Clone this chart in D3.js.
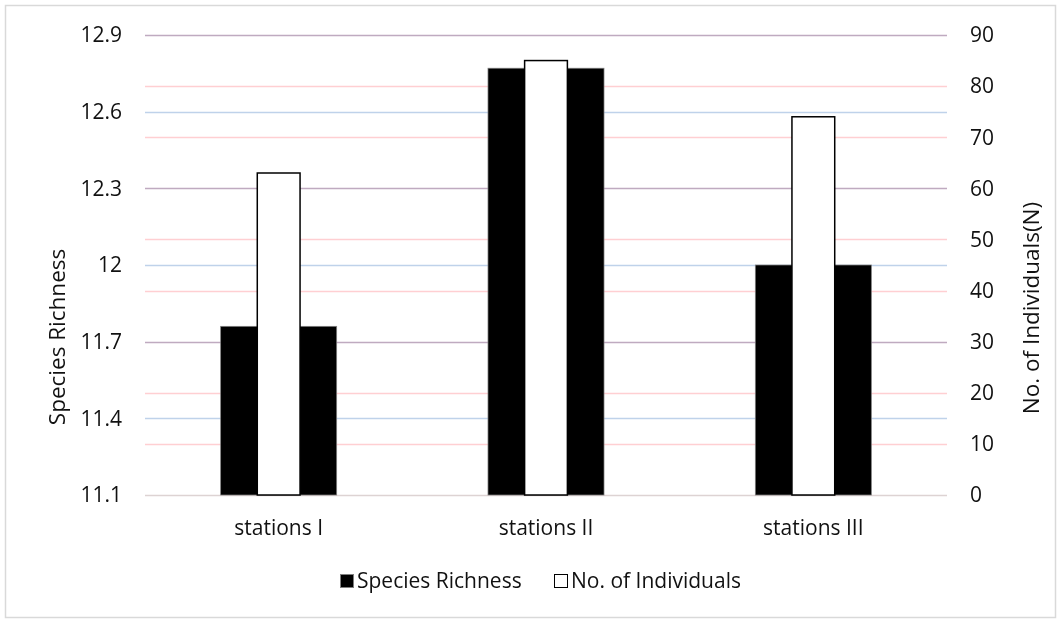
<!DOCTYPE html>
<html>
<head>
<meta charset="utf-8">
<script src="https://cdn.jsdelivr.net/npm/d3@7"></script>
<style>
  html, body { margin: 0; padding: 0; background: #fff; }
  svg { display: block; font-family: "Open Sans", sans-serif; }
</style>
</head>
<body>
<svg id="chart" width="1061" height="619"></svg>
<script>
// Stations and the two measured series
const categories = ["stations I", "stations II", "stations III"];
const speciesRichness = [11.76, 12.77, 12.0];
const individuals = [63, 85, 74];
const leftTicks = [11.1, 11.4, 11.7, 12.0, 12.3, 12.6, 12.9];
const rightTicks = [0, 10, 20, 30, 40, 50, 60, 70, 80, 90];
const leftTickLabels = ["11.1", "11.4", "11.7", "12", "12.3", "12.6", "12.9"];
const legendLabels = ["Species Richness", "No. of Individuals"];

const svg = d3.select("#chart");
const W = 1061;
const plot = { left: 145, right: 947, top: 35, bottom: 495 };

// frame around the chart
svg.append("rect")
  .attr("x", 5.5).attr("y", 5.5)
  .attr("width", W - 11).attr("height", 612)
  .attr("fill", "#fff").attr("stroke", "#d9d9d9").attr("stroke-width", 1.5);

const x = d3.scaleBand().domain(categories)
  .range([plot.left, plot.right]).paddingInner(0.566).paddingOuter(0.283);
const xNarrow = d3.scaleBand().domain(categories)
  .range([plot.left, plot.right]).paddingInner(0.84).paddingOuter(0.42);
const yL = d3.scaleLinear().domain([11.1, 12.9]).range([plot.bottom, plot.top]);
const yR = d3.scaleLinear().domain([0, 90]).range([plot.bottom, plot.top]);

// gridlines: right axis (pink) and left axis (blue), blended where they coincide
const grid = svg.append("g").style("isolation", "isolate");
grid.selectAll("line.gr").data(rightTicks.filter(d => d > 0)).join("line")
  .attr("x1", plot.left).attr("x2", plot.right)
  .attr("y1", d => Math.round(yR(d)) + 0.5).attr("y2", d => Math.round(yR(d)) + 0.5)
  .attr("stroke", "#ffcfd2").attr("stroke-width", 1.5)
  .style("mix-blend-mode", "multiply");
grid.selectAll("line.gl").data(leftTicks.filter(d => d > 11.1)).join("line")
  .attr("x1", plot.left).attr("x2", plot.right)
  .attr("y1", d => Math.round(yL(d)) + 0.5).attr("y2", d => Math.round(yL(d)) + 0.5)
  .attr("stroke", "#bfd2ea").attr("stroke-width", 1.5)
  .style("mix-blend-mode", "multiply");
// base line
svg.append("line")
  .attr("x1", plot.left).attr("x2", plot.right)
  .attr("y1", plot.bottom + 0.5).attr("y2", plot.bottom + 0.5)
  .attr("stroke", "#ddd3d3").attr("stroke-width", 1.5);

// species richness bars (primary axis)
svg.append("g").selectAll("rect").data(categories).join("rect")
  .attr("x", d => x(d))
  .attr("y", (d, i) => yL(speciesRichness[i]))
  .attr("width", x.bandwidth())
  .attr("height", (d, i) => yL(11.1) - yL(speciesRichness[i]))
  .attr("fill", "#000").attr("stroke", "#7f7f7f").attr("stroke-width", 0.75);

// individuals bars (secondary axis)
svg.append("g").selectAll("rect").data(categories).join("rect")
  .attr("x", d => xNarrow(d))
  .attr("y", (d, i) => yR(individuals[i]))
  .attr("width", xNarrow.bandwidth())
  .attr("height", (d, i) => yR(0) - yR(individuals[i]))
  .attr("fill", "#fff").attr("stroke", "#000").attr("stroke-width", 1.5);

const tickStyle = s => s.attr("font-size", 21).attr("fill", "#111");
const titleStyle = s => s.attr("font-size", 22.5).attr("fill", "#111");

// left axis labels
svg.append("g").selectAll("text").data(leftTicks).join("text")
  .attr("x", 122).attr("y", d => yL(d)).attr("dy", "0.35em")
  .attr("text-anchor", "end").text((d, i) => leftTickLabels[i]).call(tickStyle);

// right axis labels
svg.append("g").selectAll("text").data(rightTicks).join("text")
  .attr("x", 970).attr("y", d => yR(d)).attr("dy", "0.35em")
  .attr("text-anchor", "start").text(d => d).call(tickStyle);

// category labels
svg.append("g").selectAll("text").data(categories).join("text")
  .attr("x", d => x(d) + x.bandwidth() / 2).attr("y", 535)
  .attr("text-anchor", "middle").text(d => d).call(tickStyle);

// axis titles
svg.append("text")
  .attr("transform", "translate(65,337) rotate(-90)")
  .attr("text-anchor", "middle").text("Species Richness").call(titleStyle);
svg.append("text")
  .attr("transform", "translate(1039,308) rotate(-90)")
  .attr("text-anchor", "middle").text("No. of Individuals(N)").call(titleStyle);

// legend
const legendSwatch = [
  { fill: "#000", stroke: "#7f7f7f", x: 340 },
  { fill: "#fff", stroke: "#000", x: 554 }
];
const legend = svg.append("g").attr("transform", "translate(0,581)");
legendLabels.forEach((label, i) => {
  const s = legendSwatch[i];
  const g = legend.append("g").attr("transform", `translate(${s.x},0)`);
  g.append("rect").attr("x", 0.5).attr("y", -6.5).attr("width", 13).attr("height", 13)
    .attr("fill", s.fill).attr("stroke", s.stroke).attr("stroke-width", 1);
  g.append("text").attr("x", 17).attr("y", 0).attr("dy", "0.35em")
    .text(label).call(tickStyle);
});
</script>
</body>
</html>
